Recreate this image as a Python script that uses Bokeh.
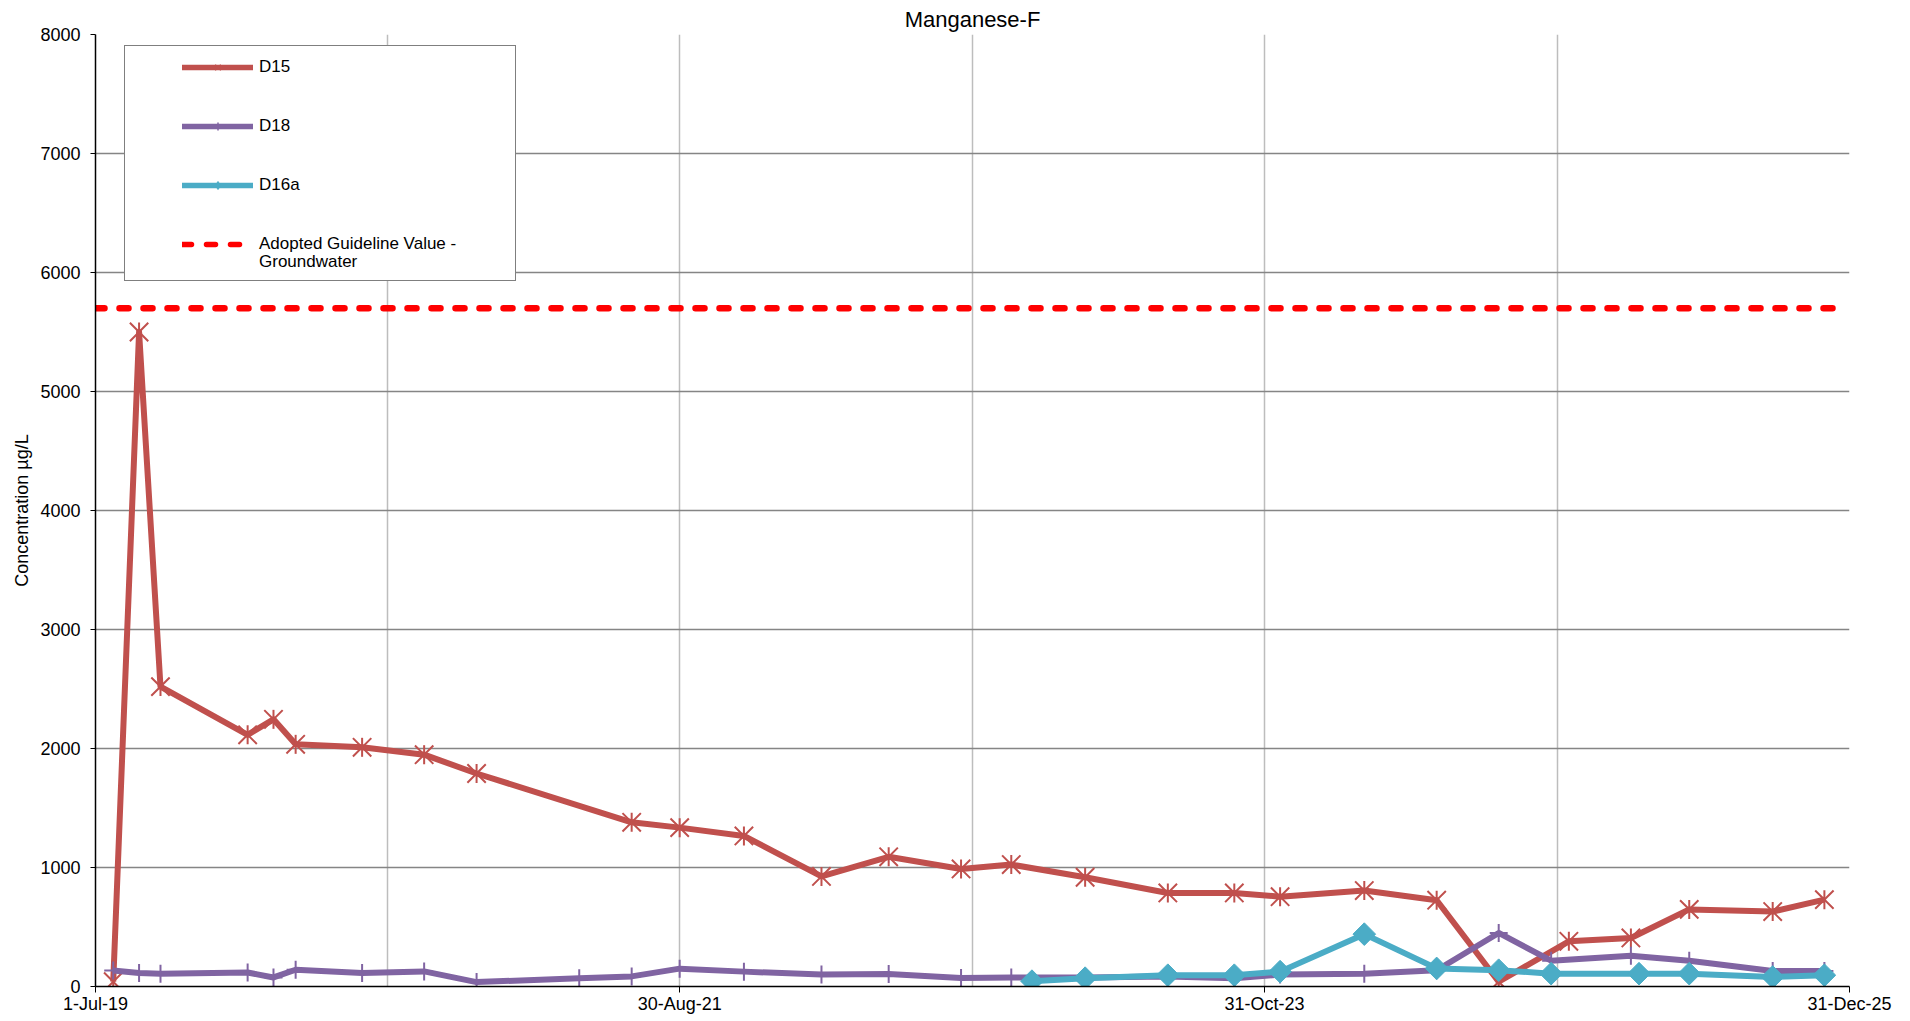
import math
import pandas as pd
from bokeh.plotting import figure
from bokeh.models import Range1d, FixedTicker, Legend, LegendItem
from bokeh.embed import file_html
from bokeh.resources import INLINE

TITLE = "Manganese-F"
Y_LABEL = "Concentration µg/L"
X_TICK_LABELS = ["1-Jul-19", "30-Aug-21", "31-Oct-23", "31-Dec-25"]
Y_TICKS = [0, 1000, 2000, 3000, 4000, 5000, 6000, 7000, 8000]

D15_DATES = ["2019-07-25", "2019-08-29", "2019-09-27", "2020-01-23", "2020-02-27", "2020-03-28",
             "2020-06-26", "2020-09-18", "2020-11-28", "2021-06-26", "2021-08-30", "2021-11-25",
             "2022-03-10", "2022-06-09", "2022-09-15", "2022-11-22", "2023-03-02", "2023-06-22",
             "2023-09-20", "2023-11-21", "2024-03-14", "2024-06-20", "2024-09-12", "2024-12-16",
             "2025-03-10", "2025-05-28", "2025-09-18", "2025-11-27"]
D15_VALUES = [40, 5500, 2520, 2115, 2245, 2035, 2010, 1948, 1790, 1380, 1335, 1265,
              925, 1090, 988, 1025, 918, 786, 786, 755, 806, 725, 40, 380, 408, 648, 630, 730]

D18_DATES = ["2019-07-25", "2019-08-29", "2019-09-27", "2020-01-23", "2020-02-27", "2020-03-28",
             "2020-06-26", "2020-09-18", "2020-11-28", "2021-04-16", "2021-06-26", "2021-08-30",
             "2021-11-25", "2022-03-10", "2022-06-09", "2022-09-15", "2022-11-22", "2023-03-02",
             "2023-06-22", "2023-09-20", "2023-11-21", "2024-03-14", "2024-06-20", "2024-09-12",
             "2024-11-22", "2025-03-10", "2025-05-28", "2025-09-18", "2025-11-27"]
D18_VALUES = [135, 113, 107, 118, 76, 141, 113, 127, 37, 70, 85, 150,
              125, 100, 105, 72, 75, 75, 85, 70, 100, 108, 137, 450,
              217, 259, 217, 131, 131]

D16A_DATES = ["2022-12-20", "2023-03-02", "2023-06-22", "2023-09-20", "2023-11-21", "2024-03-14",
              "2024-06-20", "2024-09-12", "2024-11-22", "2025-03-21", "2025-05-28", "2025-09-18",
              "2025-11-27"]
D16A_VALUES = [45, 70, 95, 95, 125, 440, 152, 137, 108, 108, 108, 80, 95]

GUIDE_DATES = ["2019-07-01", "2025-12-26"]
GUIDE_VALUES = [5700, 5700]

LEGEND_LABELS = ["D15", "D18", "D16a", "Adopted Guideline Value -", "Groundwater"]

RED = "#C0504D"
PURPLE = "#8064A2"
CYAN = "#4BACC6"
GUIDE = "#FF0000"
FONT = "Liberation Sans"
LW = 6


def to_ms(dates):
    return [int(pd.Timestamp(d).value // 10**6) for d in dates]


major = to_ms(pd.to_datetime(X_TICK_LABELS, format="%d-%b-%y"))
minor = [(a + b) // 2 for a, b in zip(major[:-1], major[1:])]

p = figure(width=1910, height=1021, x_axis_type="datetime",
           x_range=Range1d(major[0], major[-1]), y_range=Range1d(Y_TICKS[0], Y_TICKS[-1]),
           output_backend="svg", toolbar_location=None,
           min_border_left=95, min_border_right=61, min_border_top=34, min_border_bottom=35)
p.outline_line_color = None
p.background_fill_color = "white"

p.title.text = TITLE
p.title.align = "center"
p.title.text_font = FONT
p.title.text_font_size = "22px"
p.title.text_font_style = "normal"
p.title.text_color = "black"
p.title.standoff = 6

xa = p.xaxis[0]
xa.ticker = FixedTicker(ticks=major, minor_ticks=minor)
xa.major_label_overrides = {m: lab for m, lab in zip(major, X_TICK_LABELS)}
xa.major_label_text_font = FONT
xa.major_label_text_font_size = "18px"
xa.major_label_text_color = "black"
xa.major_label_standoff = 1
xa.axis_line_color = "black"
xa.axis_line_width = 1.5
xa.major_tick_line_color = "black"
xa.major_tick_out = 6
xa.major_tick_in = 0
xa.minor_tick_line_color = None

ya = p.yaxis[0]
ya.ticker = FixedTicker(ticks=Y_TICKS)
ya.major_label_text_font = FONT
ya.major_label_text_font_size = "18px"
ya.major_label_text_color = "black"
ya.major_label_standoff = 10
ya.axis_line_color = "black"
ya.axis_line_width = 1.5
ya.major_tick_line_color = "black"
ya.major_tick_out = 5
ya.major_tick_in = 0
ya.minor_tick_line_color = None
ya.axis_label = Y_LABEL
ya.axis_label_text_font = FONT
ya.axis_label_text_font_size = "18px"
ya.axis_label_text_font_style = "normal"
ya.axis_label_text_color = "black"
ya.axis_label_standoff = 5

p.xgrid.grid_line_color = "#BDBDBD"
p.xgrid.grid_line_width = 1.5
p.xgrid.minor_grid_line_color = "#BDBDBD"
p.xgrid.minor_grid_line_width = 1.5
p.ygrid.grid_line_color = "#858585"
p.ygrid.grid_line_width = 1.5

xg = pd.to_datetime(GUIDE_DATES)
x15 = pd.to_datetime(D15_DATES)
x18 = pd.to_datetime(D18_DATES)
x16 = pd.to_datetime(D16A_DATES)

# guideline
p.line(x=xg, y=GUIDE_VALUES, line_color=GUIDE, line_width=6.5, line_dash="9 15", line_cap="round")

# D15
p.line(x=x15, y=D15_VALUES, line_color=RED, line_width=LW, line_join="round")
p.scatter(x=x15, y=D15_VALUES, marker="x", size=26, line_color=RED, line_width=2)
p.scatter(x=x15, y=D15_VALUES, marker="dash", angle=math.pi / 2, size=19, line_color=RED, line_width=2)

# D18
p.line(x=x18, y=D18_VALUES, line_color=PURPLE, line_width=LW, line_join="round")
p.scatter(x=x18, y=D18_VALUES, marker="cross", size=18, line_color=PURPLE, line_width=2)

# D16a
p.line(x=x16, y=D16A_VALUES, line_color=CYAN, line_width=LW, line_join="round")
p.scatter(x=x16, y=D16A_VALUES, marker="square", angle=math.pi / 4, size=16,
          fill_color=CYAN, line_color=CYAN)

# hidden renderers used only for the legend swatches
box_r = p.line(x=xg, y=GUIDE_VALUES, line_alpha=0, visible=False)
l15 = p.line(x=x15, y=D15_VALUES, line_color=RED, line_width=5.5, line_cap="round", visible=False)
m15a = p.scatter(x=x15, y=D15_VALUES, marker="x", size=10, line_color=RED, line_width=1.5, visible=False)
m15b = p.scatter(x=x15, y=D15_VALUES, marker="dash", angle=math.pi / 2, size=7,
                 line_color=RED, line_width=1.5, visible=False)
l18 = p.line(x=x18, y=D18_VALUES, line_color=PURPLE, line_width=5.5, line_cap="round", visible=False)
m18 = p.scatter(x=x18, y=D18_VALUES, marker="cross", size=7, line_color=PURPLE, line_width=1.5,
                visible=False)
l16 = p.line(x=x16, y=D16A_VALUES, line_color=CYAN, line_width=5.5, line_cap="round", visible=False)
m16 = p.scatter(x=x16, y=D16A_VALUES, marker="diamond", size=9,
                fill_color=CYAN, line_color=CYAN, visible=False)
lg = p.line(x=xg, y=GUIDE_VALUES, line_color=GUIDE, line_width=5.5, line_dash="9 15",
            line_cap="round", visible=False)

# legend frame
box_legend = Legend(items=[LegendItem(label=" ", renderers=[box_r])],
                    location=(29, 705), padding=0, spacing=0, margin=0,
                    glyph_width=1, glyph_height=234, label_width=389, label_height=234,
                    label_standoff=0, border_line_color="black", border_line_width=1.5,
                    background_fill_color="white", background_fill_alpha=1.0)
p.add_layout(box_legend, "center")

legend = Legend(items=[LegendItem(label=LEGEND_LABELS[0], renderers=[l15, m15a, m15b]),
                       LegendItem(label=LEGEND_LABELS[1], renderers=[l18, m18]),
                       LegendItem(label=LEGEND_LABELS[2], renderers=[l16, m16]),
                       LegendItem(label=LEGEND_LABELS[3], renderers=[lg])],
                location=(87, 732), padding=0, spacing=39, margin=0,
                glyph_width=71, glyph_height=20, label_height=20, label_standoff=6,
                label_text_font=FONT, label_text_font_size="17px", label_text_color="black",
                border_line_color=None, background_fill_alpha=0.0)
p.add_layout(legend, "center")

# second line of the guideline label
legend2 = Legend(items=[LegendItem(label=LEGEND_LABELS[4], renderers=[box_r])],
                 location=(87, 714), padding=0, spacing=0, margin=0,
                 glyph_width=71, glyph_height=20, label_height=20, label_standoff=6,
                 label_text_font=FONT, label_text_font_size="17px", label_text_color="black",
                 border_line_color=None, background_fill_alpha=0.0)
p.add_layout(legend2, "center")

open("out.html", "w").write(file_html(p, INLINE))
